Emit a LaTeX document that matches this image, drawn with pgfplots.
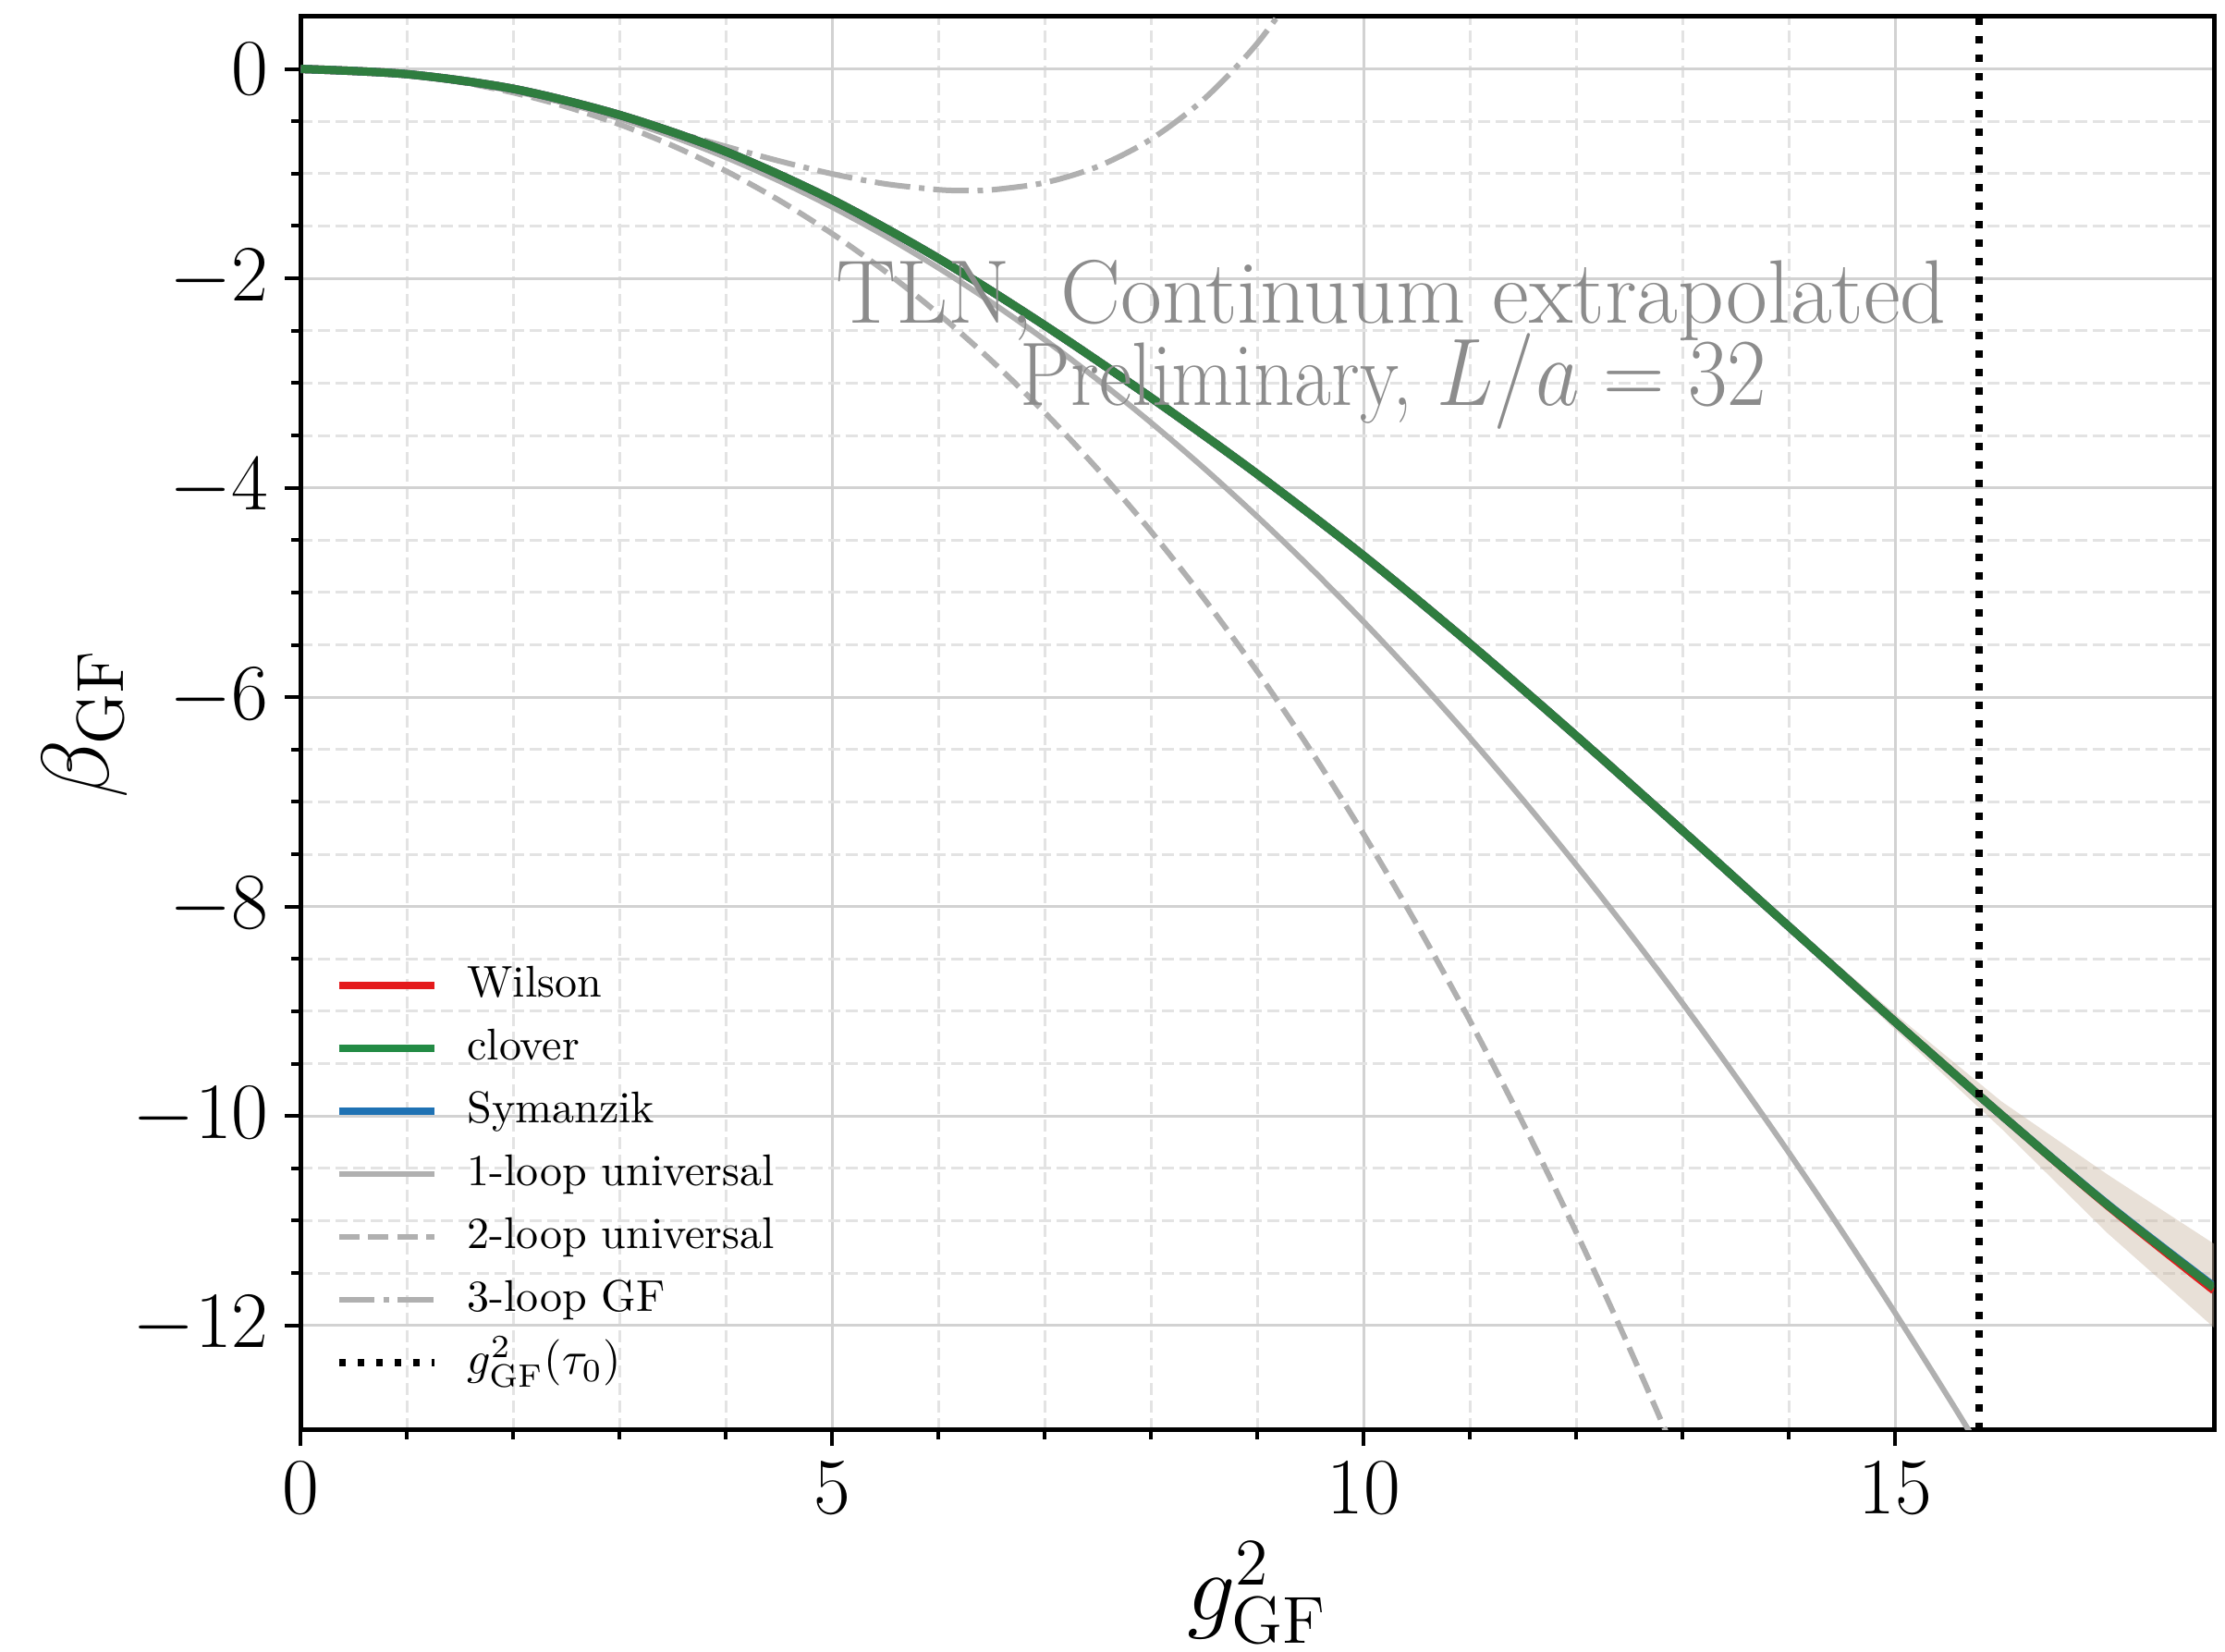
\documentclass[border=0pt]{standalone}
\usepackage{pgfplots}
\pgfplotsset{compat=1.18}
\definecolor{cwil}{HTML}{E41A1C}
\definecolor{cclo}{HTML}{2F7D3F}
\definecolor{cclol}{HTML}{238B45}
\definecolor{csym}{HTML}{1F72B4}
\definecolor{cpt}{HTML}{B0B0B0}
\definecolor{cband}{HTML}{C8B4A0}
\definecolor{cmaj}{HTML}{D2D2D2}
\definecolor{cmin}{HTML}{E3E3E3}
\definecolor{ctxt}{HTML}{8C8C8C}
\begin{document}
\begin{tikzpicture}
\useasboundingbox (-65.1pt,-48pt) rectangle (416.3pt,309.4pt);
\begin{axis}[
  at={(0,0)}, anchor=south west,
  scale only axis, width=413.9pt, height=305.8pt,
  xmin=0, xmax=18, ymin=-13, ymax=0.5,
  xtick={0,5,10,15}, ytick={-12,-10,...,0},
  minor x tick num=4, minor y tick num=3,
  xtick pos=left, ytick pos=left,
  tick align=outside,
  major tick length=3.5pt, minor tick length=2pt,
  every tick/.style={black, line width=0.8pt},
  axis line style={line width=1pt},
  grid=both,
  major grid style={cmaj, line width=0.6pt, solid},
  minor grid style={cmin, line width=0.6pt, dash pattern=on 2.6pt off 1.2pt},
  tick label style={font=\fontsize{17.28}{20}\selectfont},
  xlabel={$g^2_{\mathrm{GF}}$},
  ylabel={$\beta_{\mathrm{GF}}$},
  label style={font=\fontsize{20.74}{24}\selectfont},
  xlabel style={at={(axis description cs:0.5,-0.115)}, anchor=center},
  ylabel style={at={(axis description cs:-0.1128,0.5)}, anchor=center},
  legend cell align=left,
  legend style={at={(axis description cs:0,0)}, anchor=south west,
    xshift=4.3pt, yshift=7.4pt,
    draw=none, fill=none,
    font=\fontsize{9.6}{11.5}\selectfont,
    nodes={inner sep=0pt, text height=7.5pt, text depth=2.4pt},
    row sep=3.7pt, column sep=6.4pt},
  legend image code/.code={\draw[#1] (0pt,0pt) -- (20.6pt,0pt);},
]
% band
\addplot[draw=none, fill=cband, fill opacity=0.42, forget plot] coordinates {
(11,-5.475) (12,-6.35) (13,-7.25) (14,-8.15) (15,-9.025) (16,-9.86) (17,-10.56) (18,-11.22)
(18,-12.02) (17,-11.12) (16,-10.12) (15,-9.175) (14,-8.23) (13,-7.30) (12,-6.39) (11,-5.505)
} -- cycle;
% perturbative curves
\addplot[cpt, line width=1.2pt, smooth, forget plot] coordinates {
(0,0) (0.5,-0.0132) (1,-0.0528) (1.5,-0.1188) (2,-0.211) (2.5,-0.33) (3,-0.475) (3.5,-0.6468) (4,-0.845) (4.5,-1.0692)
(5,-1.32) (5.5,-1.5972) (6,-1.901) (6.5,-2.2308) (7,-2.587) (7.5,-2.97) (8,-3.379) (8.5,-3.8148) (9,-4.277) (9.5,-4.765)
(10,-5.28) (10.5,-5.821) (11,-6.389) (11.5,-6.983) (12,-7.603) (12.5,-8.25) (13,-8.923) (13.5,-9.623) (14,-10.349)
(14.5,-11.101) (15,-11.88) (15.5,-12.685) (15.8,-13.18)};
\addplot[cpt, line width=1.2pt, smooth, dash pattern=on 4.4pt off 1.9pt, forget plot] coordinates {
(0,0) (0.5,-0.0135) (1,-0.0548) (1.5,-0.1257) (2,-0.227) (2.5,-0.3617) (3,-0.530) (3.5,-0.7338) (4,-0.975) (4.5,-1.2542)
(5,-1.574) (5.5,-1.935) (6,-2.339) (6.5,-2.788) (7,-3.283) (7.5,-3.826) (8,-4.418) (8.5,-5.062) (9,-5.757) (9.5,-6.506)
(10,-7.31) (10.5,-8.171) (11,-9.091) (11.5,-10.07) (12,-11.111) (12.5,-12.215) (13,-13.383)};
\addplot[cpt, line width=1.2pt, smooth, dash pattern=on 7.7pt off 1.9pt on 1.2pt off 1.9pt, forget plot] coordinates {
(0,0) (0.5,-0.0134) (1,-0.0539) (1.5,-0.1211) (2,-0.2124) (2.5,-0.326) (3,-0.4559) (3.5,-0.5965) (4,-0.7408) (4.5,-0.879)
(5,-1.0021) (5.5,-1.0977) (6,-1.1532) (6.25,-1.1619) (6.5,-1.1547) (7,-1.0861) (7.5,-0.9309) (8,-0.6702) (8.5,-0.2856)
(9,0.2463) (9.5,0.9467)};
% nonperturbative curves
\addplot[cwil, line width=1.8pt, smooth, forget plot] coordinates {
(0,0) (1,-0.05) (2,-0.19) (3,-0.44) (4,-0.79) (5,-1.25) (6,-1.81) (7,-2.45) (8,-3.14) (9,-3.87)
(10,-4.65) (11,-5.49) (12,-6.37) (13,-7.275) (14,-8.19) (15,-9.10) (16,-9.99) (17,-10.855) (18,-11.665)};
\addplot[csym, line width=1.8pt, smooth, forget plot] coordinates {
(0,0) (1,-0.05) (2,-0.19) (3,-0.44) (4,-0.79) (5,-1.25) (6,-1.81) (7,-2.45) (8,-3.14) (9,-3.87)
(10,-4.65) (11,-5.49) (12,-6.37) (13,-7.275) (14,-8.19) (15,-9.10) (16,-9.99) (17,-10.845) (18,-11.63)};
\addplot[cclo, line width=1.8pt, smooth, forget plot] coordinates {
(0,0) (1,-0.05) (2,-0.19) (3,-0.44) (4,-0.79) (5,-1.25) (6,-1.81) (7,-2.45) (8,-3.14) (9,-3.87)
(10,-4.65) (11,-5.49) (12,-6.37) (13,-7.275) (14,-8.19) (15,-9.10) (16,-9.99) (17,-10.85) (18,-11.64)};
% g^2(tau0)
\addplot[black, line width=1.5pt, dash pattern=on 1.5pt off 2.5pt, forget plot] coordinates {(15.79,-13) (15.79,0.5)};
% text
\node[anchor=base, text=ctxt, font=\fontsize{19.5}{18}\selectfont] at (axis cs:10.26,-2.43) {TLN, Continuum extrapolated};
\node[anchor=base, text=ctxt, font=\fontsize{19.5}{18}\selectfont, xscale=0.89] at (axis cs:10.28,-3.21) {Preliminary, $L/a=32$};
% legend
\addlegendimage{cwil, line width=1.5pt}
\addlegendentry{Wilson}
\addlegendimage{cclol, line width=1.5pt}
\addlegendentry{clover}
\addlegendimage{csym, line width=1.5pt}
\addlegendentry{Symanzik}
\addlegendimage{cpt, line width=1.2pt}
\addlegendentry{1-loop universal}
\addlegendimage{cpt, line width=1.2pt, dash pattern=on 4.4pt off 1.9pt}
\addlegendentry{2-loop universal}
\addlegendimage{cpt, line width=1.2pt, dash pattern=on 7.7pt off 1.9pt on 1.2pt off 1.9pt}
\addlegendentry{3-loop GF}
\addlegendimage{black, line width=1.5pt, dash pattern=on 1.5pt off 2.5pt}
\addlegendentry{$g^2_{\mathrm{GF}}(\tau_0)$}
\end{axis}
\end{tikzpicture}
\end{document}
